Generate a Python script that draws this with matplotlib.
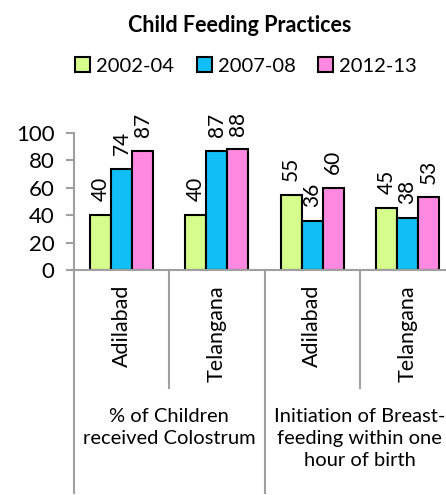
import matplotlib
matplotlib.use("Agg")
import matplotlib.pyplot as plt
import numpy as np
from matplotlib.transforms import blended_transform_factory

plt.rcParams['font.family'] = ['Lato', 'DejaVu Sans']

title = "Child Feeding Practices"
series = ["2002-04", "2007-08", "2012-13"]
categories = ["Adilabad", "Telangana", "Adilabad", "Telangana"]
groups = ["% of Children\nreceived Colostrum", "Initiation of Breast-\nfeeding within one\nhour of birth"]
values = {
    "2002-04": [40, 40, 55, 45],
    "2007-08": [74, 87, 36, 38],
    "2012-13": [87, 88, 60, 53],
}
colors = ["#D6FC8C", "#12BEF6", "#FF88E0"]
yticks = [0, 20, 40, 60, 80, 100]

W, H = 446, 495
fig = plt.figure(figsize=(W / 100, H / 100), dpi=100)
ax = fig.add_axes([74 / W, (H - 270) / H, 381 / W, 137 / H])

x = np.arange(len(categories)) + 0.5
bw = 0.22
gray = "#A0A0A0"
for i, s in enumerate(series):
    xs = x + (i - 1) * bw
    ax.bar(xs, values[s], width=bw, color=colors[i], edgecolor="black",
           linewidth=1.5, label=s, zorder=3)
    for xi, v in zip(xs, values[s]):
        ax.annotate(f"{v}", (xi, v), xytext=(0, 10), textcoords="offset points",
                    rotation=90, ha="center", va="bottom", fontsize=15,
                    annotation_clip=False)

ax.set_xlim(0, 4)
ax.set_ylim(0, 100)
ax.set_yticks(yticks)
ax.tick_params(axis="y", labelsize=16, length=6, width=1.5, color=gray, pad=8)
ax.set_xticks([])
for sp in ["top", "right"]:
    ax.spines[sp].set_visible(False)
ax.spines["left"].set_color(gray)
ax.spines["left"].set_linewidth(1.5)
ax.spines["bottom"].set_color(gray)
ax.spines["bottom"].set_linewidth(1.5)
ax.spines["bottom"].set_zorder(4)

tr = blended_transform_factory(ax.transData, ax.transAxes)
# separators
for b in [0, 2, 4]:
    ax.plot([b, b], [0, -1.63], transform=tr, color=gray, lw=1.5, clip_on=False)
for b in [1, 3]:
    ax.plot([b, b], [0, -0.86], transform=tr, color=gray, lw=1.5, clip_on=False)

for xi, c in zip(x, categories):
    ax.text(xi, -0.11, c, transform=tr, rotation=90, ha="center", va="top", fontsize=15.5)

for gi, g in enumerate(groups):
    ax.text(2 * gi + 1, -1.01, g, transform=tr, ha="center", va="top", fontsize=14.5,
            linespacing=1.35)

fig.text(240 / W, 1 - 26 / H, title, ha="center", va="center", fontsize=15.5, fontweight="bold")

handles, labels = ax.get_legend_handles_labels()
fig.legend(handles, labels, loc="center", bbox_to_anchor=(246 / W, 1 - 66 / H), ncol=3,
           frameon=False, fontsize=14.5, handlelength=0.75, handleheight=0.75,
           handletextpad=0.3, columnspacing=1.1, borderaxespad=0)

fig.savefig("out.png", dpi=100)
